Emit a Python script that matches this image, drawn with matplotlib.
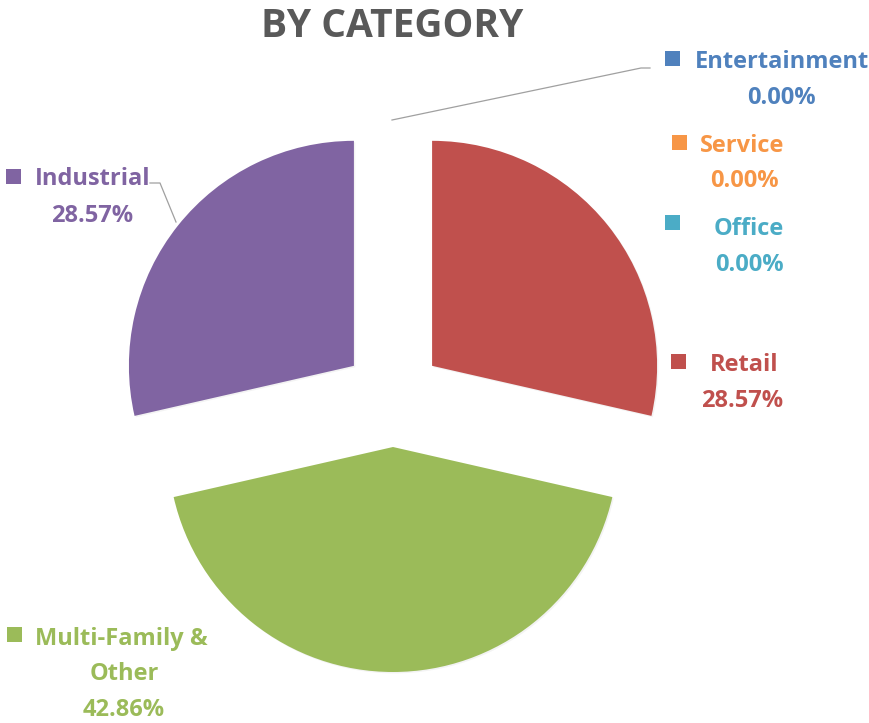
import matplotlib
matplotlib.use("Agg")
import matplotlib.pyplot as plt
from matplotlib.patches import Rectangle
import matplotlib.patheffects as pe

W, H = 869, 723

categories = ["Entertainment", "Service", "Office", "Retail", "Multi-Family &\nOther", "Industrial"]
values = [0, 0, 0, 2, 3, 2]
colors = ["#4F81BD", "#F79646", "#4BACC6", "#C0504D", "#9BBB59", "#8064A2"]

# label anchor positions in pixel coords (square centre, name left/baseline, percent centre/baseline)
label_pos = {
    "Entertainment": dict(sq=(672, 58), name=(695, 68), pct=(781, 104)),
    "Service": dict(sq=(679, 142), name=(700, 152), pct=(744, 187)),
    "Office": dict(sq=(672, 222), name=(714, 235), pct=(749, 271)),
    "Retail": dict(sq=(678, 361), name=(710, 371), pct=(742, 407)),
    "Multi-Family &\nOther": dict(sq=(14, 634), name=(35, 645), pct=(124, 716)),
    "Industrial": dict(sq=(13, 176), name=(35, 185), pct=(92, 222)),
}

plt.rcParams["font.family"] = ["Open Sans", "DejaVu Sans"]


def py(y):
    return H - y


fig = plt.figure(figsize=(W / 100, H / 100), dpi=100)
ax = fig.add_axes([0, 0, 1, 1])

radius = 225
explode_px = 50
wedges, _ = ax.pie(values, colors=colors, startangle=90, counterclock=False,
                   center=(393, py(397)), radius=radius,
                   explode=[explode_px] * len(values),
                   wedgeprops=dict(linewidth=0))
for w in wedges:
    w.set_path_effects([pe.SimplePatchShadow(offset=(1, -1), shadow_rgbFace="#a0a0a0", alpha=0.12),
                        pe.Normal()])

ax.set_xlim(0, W)
ax.set_ylim(0, H)
ax.set_aspect("equal")
ax.axis("off")

ax.text(392, py(37), "BY CATEGORY", ha="center", va="baseline",
        fontsize=28, fontweight="bold", color="#595959")

total = sum(values)
sq = 15
for cat, val, col in zip(categories, values, colors):
    p = label_pos[cat]
    sx, sy = p["sq"]
    ax.add_patch(Rectangle((sx - sq / 2, py(sy) - sq / 2), sq, sq, color=col, lw=0))
    lines = cat.split("\n")
    nx, ny = p["name"]
    ax.text(nx, py(ny), lines[0], ha="left", va="baseline",
            fontsize=17, fontweight="bold", color=col)
    cx, cy = p["pct"]
    extra = lines[1:]
    for i, ln in enumerate(extra):
        ax.text(cx, py(cy - 36 * (len(extra) - i)), ln, ha="center", va="baseline",
                fontsize=17, fontweight="bold", color=col)
    ax.text(cx, py(cy), f"{val / total * 100:.2f}%", ha="center", va="baseline",
            fontsize=17, fontweight="bold", color=col)

# leader lines
ax.plot([392, 641, 650], [py(120), py(68), py(68)], color="#A0A0A0", lw=0.9)
ax.plot([150, 160, 176], [py(183), py(183), py(222)], color="#A0A0A0", lw=0.9)

fig.savefig("out.png", dpi=100)
